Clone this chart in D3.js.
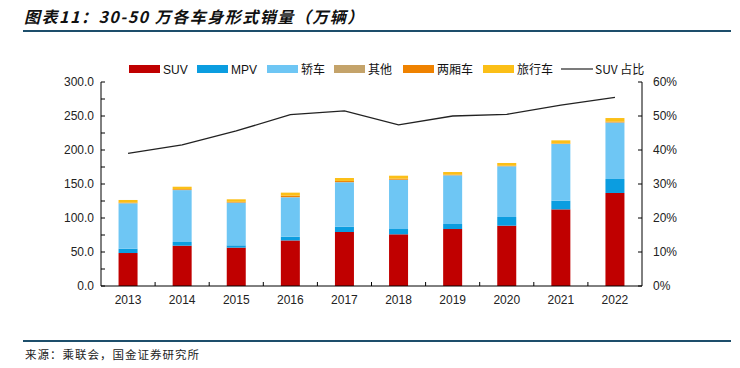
<!DOCTYPE html>
<html><head><meta charset="utf-8">
<script src="https://cdn.jsdelivr.net/npm/d3@7"></script>
<style>
html,body{margin:0;padding:0;background:#fff;}
svg{display:block;}
text{font-family:"Liberation Sans",Arial,sans-serif;}
</style></head>
<body><svg id="c" width="740" height="368"></svg>
<script>
const years = ["2013","2014","2015","2016","2017","2018","2019","2020","2021","2022"];
const suv   = [48.5, 59.3, 56.4, 67.0, 79.4, 76.0, 83.8, 88.7, 112.7, 136.8];
const mpv   = [6.4, 5.4, 3.4, 5.5, 7.9, 7.8, 7.4, 12.8, 12.8, 20.6];
const sedan = [66.7, 76.3, 62.7, 57.9, 65.2, 72.1, 71.5, 74.5, 83.3, 82.8];
const other = [0.3, 0.5, 0.3, 0.5, 0.5, 0.5, 0.3, 0.3, 0.3, 0.5];
const hatch = [0.8, 1.0, 1.0, 2.0, 1.5, 1.5, 0.8, 0.6, 0.6, 1.0];
const wagon = [3.8, 3.5, 3.7, 4.4, 4.3, 4.3, 3.8, 4.0, 4.5, 5.3];
const suvShare = [39.0, 41.5, 45.6, 50.4, 51.5, 47.4, 50.0, 50.5, 53.2, 55.5];
const leftTicks = [0, 50, 100, 150, 200, 250, 300];
const rightTicks = [0, 10, 20, 30, 40, 50, 60];
const seriesNames = ["SUV","MPV","轿车","其他","两厢车","旅行车"];
const seriesColors = ["#c00000","#0b9de0","#6ec6f4","#c4a36a","#ef8200","#fbbf17"];

const svg = d3.select("#c");
const L = 101, R = 642, T = 82, B = 286;

// title
svg.append("text").attr("x",24).attr("y",23)
  .style("font-family","'Noto Sans CJK SC',sans-serif").style("font-weight","bold")
  .style("font-style","italic").style("font-size","16px").style("letter-spacing","1.5px").attr("fill","#111")
  .text("图表11：30-50 万各车身形式销量（万辆）");
svg.append("line").attr("x1",23).attr("x2",731).attr("y1",31).attr("y2",31)
  .attr("stroke","#1d4e6b").attr("stroke-width",2);
svg.append("line").attr("x1",23).attr("x2",731).attr("y1",341).attr("y2",341)
  .attr("stroke","#1d4e6b").attr("stroke-width",2);
svg.append("text").attr("x",25).attr("y",359)
  .style("font-family","'Noto Sans CJK SC',sans-serif").style("font-size","11.5px").style("letter-spacing","1px").attr("fill","#222")
  .text("来源：乘联会，国金证券研究所");

const x = d3.scaleBand().domain(years).range([L,R]).paddingInner(0).paddingOuter(0);
const y = d3.scaleLinear().domain([0,300]).range([B,T]);
const y2 = d3.scaleLinear().domain([0,60]).range([B,T]);

const table = years.map((yr,i)=>({year:yr,"SUV":suv[i],"MPV":mpv[i],"轿车":sedan[i],"其他":other[i],"两厢车":hatch[i],"旅行车":wagon[i]}));
const stacked = d3.stack().keys(seriesNames)(table);
const bw = 19;
const g = svg.append("g");
stacked.forEach((s,k)=>{
  g.selectAll(null).data(s).enter().append("rect")
   .attr("x",d=>x(d.data.year)+x.bandwidth()/2-bw/2)
   .attr("width",bw)
   .attr("y",d=>y(d[1]))
   .attr("height",d=>y(d[0])-y(d[1]))
   .attr("fill",seriesColors[k]);
});

// line
const line = d3.line().x((d,i)=>x(years[i])+x.bandwidth()/2).y(d=>y2(d));
svg.append("path").datum(suvShare).attr("d",line).attr("fill","none")
  .attr("stroke","#222").attr("stroke-width",1.3);

// axes
const ax = svg.append("g").attr("stroke","#000");
ax.append("line").attr("x1",L).attr("x2",L).attr("y1",T).attr("y2",B).attr("stroke-width",1);
ax.append("line").attr("x1",R).attr("x2",R).attr("y1",T).attr("y2",B).attr("stroke-width",1);
ax.append("line").attr("x1",L).attr("x2",R).attr("y1",B).attr("y2",B).attr("stroke-width",1);
d3.range(0,301,25).forEach(v=>{
  ax.append("line").attr("x1",L).attr("x2",L+4).attr("y1",y(v)).attr("y2",y(v));
});
rightTicks.forEach(v=>{
  ax.append("line").attr("x1",R).attr("x2",R-4).attr("y1",y2(v)).attr("y2",y2(v));
});
years.forEach((yr,i)=>{
  if(i>0) ax.append("line").attr("x1",x(yr)).attr("x2",x(yr)).attr("y1",B).attr("y2",B-4);
});

const lab = svg.append("g").style("font-size","12px").attr("fill","#222");
leftTicks.forEach(v=>{
  lab.append("text").attr("x",94).attr("y",y(v)+4).attr("text-anchor","end").text(v.toFixed(1));
});
rightTicks.forEach(v=>{
  lab.append("text").attr("x",653).attr("y",y2(v)+4).text(v+"%");
});
years.forEach(yr=>{
  lab.append("text").attr("x",x(yr)+x.bandwidth()/2).attr("y",304).attr("text-anchor","middle").text(yr);
});

// legend
const legX = [129,197,267,334,403,483];
const leg = svg.append("g").style("font-size","12px").attr("fill","#111");
seriesNames.forEach((n,k)=>{
  leg.append("rect").attr("x",legX[k]).attr("y",65).attr("width",31).attr("height",8).attr("fill",seriesColors[k]);
  leg.append("text").attr("x",legX[k]+34).attr("y",73.5)
    .style("font-family", /[A-Z]/.test(n)?"'Liberation Sans',Arial,sans-serif":"'Noto Sans CJK SC',sans-serif")
    .text(n);
});
leg.append("line").attr("x1",561).attr("x2",593).attr("y1",69).attr("y2",69).attr("stroke","#222").attr("stroke-width",1.2);
leg.append("text").attr("x",595).attr("y",73.5).style("font-family","'Noto Sans CJK SC','Liberation Sans',sans-serif").text("SUV 占比");
</script></body></html>
